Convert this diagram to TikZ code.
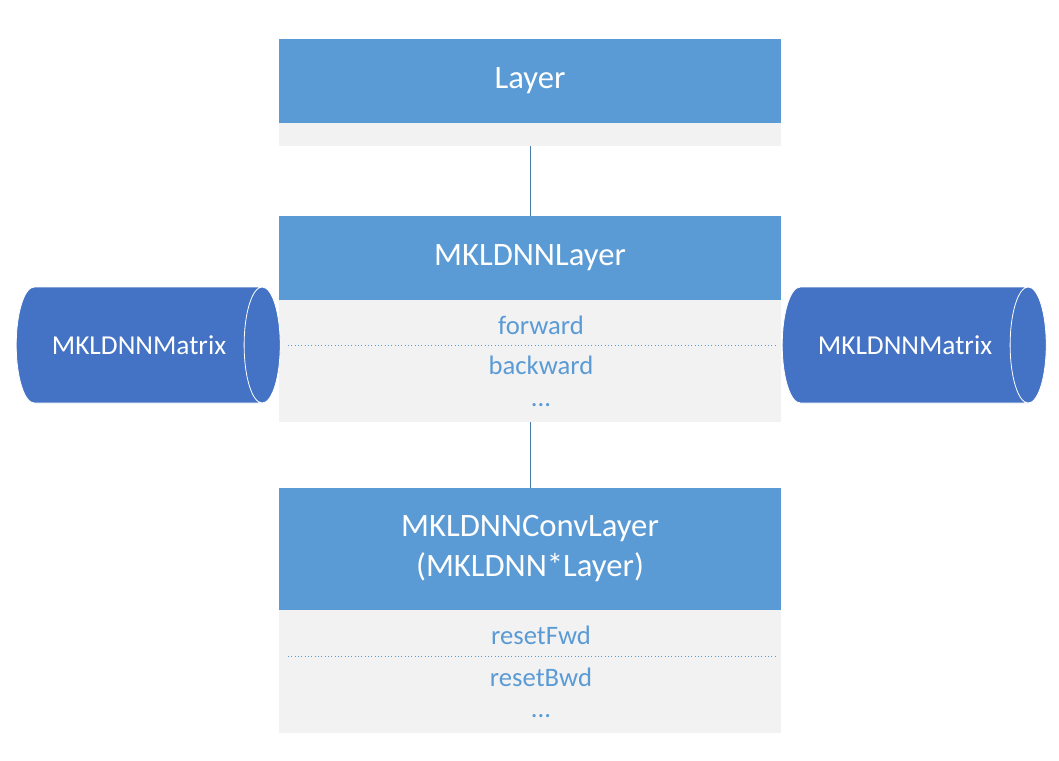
\documentclass[tikz,border=0pt]{standalone}
\usepackage{fontspec}
\setmainfont{Carlito}
\usetikzlibrary{shapes.geometric}
\definecolor{headblue}{HTML}{5B9BD5}
\definecolor{matblue}{HTML}{4472C4}
\definecolor{bodygray}{HTML}{F2F2F2}
\tikzset{
  head/.style={fill=headblue, text=white, minimum width=376.5pt, inner sep=0pt,
    align=center, font=\fontsize{24.5}{30}\selectfont},
  body/.style={fill=bodygray, minimum width=376.5pt, inner sep=0pt},
  item/.style={text=headblue, inner sep=0pt, font=\fontsize{20}{24}\selectfont},
  matrixdb/.style={cylinder, shape aspect=1.9, minimum width=87pt, minimum height=198pt,
    fill=matblue, draw=white, line width=0.6pt, text=white, inner sep=0pt,
    font=\fontsize{20.5}{24}\selectfont},
  link/.style={headblue!80!black, line width=0.6pt},
  sep/.style={headblue, dotted, line width=0.5pt}
}
\begin{document}
\begin{tikzpicture}[x=0.75pt,y=-0.75pt]
\useasboundingbox (0,0) rectangle (1059,760);
% Layer
\node[head, minimum height=63pt] (layer) at (530,81) {Layer};
\node[body, minimum height=17.25pt] (layerbody) at (530,134.5) {};
% MKLDNNLayer
\node[head, minimum height=63pt] (mkl) at (530,258) {MKLDNNLayer};
\node[body, minimum height=91.5pt] (mklbody) at (530,361) {};
\node[item] (fwd) at (541,325) {forward};
\node[item] (bwd) at (541,365) {backward};
\node[item] (mkldots) at (541,405) {...};
\draw[sep] (288,345) -- (775,345);
% MKLDNNConvLayer
\node[head, minimum height=91.5pt] (conv) at (530,549) {MKLDNNConvLayer\\(MKLDNN*Layer)};
\node[body, minimum height=92.25pt] (convbody) at (530,671.5) {};
\node[item] (rfwd) at (541,635) {resetFwd};
\node[item] (rbwd) at (541,677) {resetBwd};
\node[item] (convdots) at (541,716) {...};
\draw[sep] (288,656) -- (775,656);
% MKLDNNMatrix
\node[matrixdb] (lmat) at (139,345) {MKLDNNMatrix};
\node[matrixdb] (rmat) at (905,345) {MKLDNNMatrix};
% links
\draw[link] (layerbody.south) -- (mkl.north);
\draw[link] (mklbody.south) -- (conv.north);
\end{tikzpicture}
\end{document}
